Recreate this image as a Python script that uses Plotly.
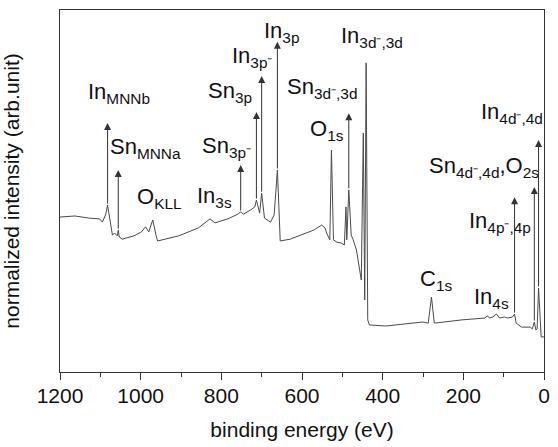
import numpy as np
import plotly.graph_objects as go

# XPS survey spectrum of ITO: binding energy (eV) and normalized intensity
energy = [1200, 1163, 1127, 1102, 1095, 1087, 1082, 1078, 1070, 1065, 1058, 1055.5, 1053,
          1046, 1017, 998, 988, 980, 970, 962, 958, 906, 857, 828, 816, 784, 759, 752,
          745, 727, 717, 713, 705, 700, 693, 678, 669, 661, 654, 629, 588, 571, 551,
          543, 539, 531, 527, 522, 514, 502, 495, 491, 489, 484, 478, 473, 465, 458,
          453, 448, 444.5, 441, 437, 433, 392, 343, 301, 287, 279, 272, 203, 147, 140,
          135, 127, 118, 110, 98, 91, 78, 73, 69, 56, 34, 29, 24, 20, 17, 13.5, 7, 0]
intensity = [42.8, 43.1, 42.5, 42.3, 41.4, 43.4, 46.1, 43.1, 37.8, 38.4, 37.6, 39.2, 37.3,
             36.7, 37.6, 38.7, 40.1, 38.7, 42.0, 37.8, 36.2, 37.6, 39.8, 42.3, 41.2, 42.3,
             43.6, 44.2, 43.6, 44.8, 45.6, 47.5, 43.9, 49.4, 42.5, 41.4, 43.4, 55.8, 36.2,
             36.7, 38.4, 39.2, 40.6, 39.8, 38.4, 36.5, 61.3, 36.5, 35.9, 35.6, 35.1, 45.6,
             36.5, 50.3, 37.8, 36.5, 33.7, 29.0, 25.4, 66.0, 19.9, 85.4, 14.4, 13.0, 12.7,
             13.3, 13.8, 13.5, 20.7, 13.5, 14.4, 14.9, 15.5, 14.9, 15.2, 16.0, 14.9, 15.2,
             14.9, 15.2, 16.0, 13.5, 12.4, 12.4, 11.9, 13.8, 11.6, 11.9, 23.2, 9.7, 9.7]

# peak assignments marked with arrows: peak energy and arrow tip height
arrow_energy = [1082, 1055.5, 752, 713, 700, 661, 484, 73, 24, 13.5]
arrow_tip = [68.8, 55.8, 57.2, 71.8, 81.8, 91.2, 71.5, 48.3, 51.1, 64.1]

# peak labels: text, left edge energy, bottom height
label_text = ["In<sub>MNNb</sub>", "Sn<sub>MNNa</sub>", "O<sub>KLL</sub>", "In<sub>3s</sub>",
              "Sn<sub>3p⁻</sub>", "Sn<sub>3p</sub>", "In<sub>3p⁻</sub>", "In<sub>3p</sub>",
              "In<sub>3d⁻,3d</sub>", "Sn<sub>3d⁻,3d</sub>", "O<sub>1s</sub>",
              "In<sub>4d⁻,4d</sub>", "Sn<sub>4d⁻,4d</sub>,O<sub>2s</sub>",
              "In<sub>4p⁻,4p</sub>", "In<sub>4s</sub>", "C<sub>1s</sub>"]
label_x = [1134, 1078, 1011, 864, 850, 835, 776, 696, 507, 639, 583, 159, 287, 189, 176, 311]
label_y = [72.9, 57.7, 43.9, 44.2, 58.0, 73.2, 82.9, 89.8, 88.4, 74.3, 62.7, 67.4, 52.5,
           37.3, 16.3, 21.3]

FONT = "Arial, Liberation Sans, sans-serif"

fig = go.Figure()
fig.add_trace(go.Scatter(x=energy, y=intensity, mode="lines",
                         line=dict(color="#4a4a4a", width=1), showlegend=False,
                         hoverinfo="skip"))

annotations = []
for e, tip in zip(arrow_energy, arrow_tip):
    base = float(np.interp(e, energy[::-1], intensity[::-1]))
    annotations.append(dict(x=e, y=tip, ax=e, ay=base, xref="x", yref="y",
                            axref="x", ayref="y", text="", showarrow=True,
                            arrowhead=2, arrowsize=1.4, arrowwidth=1,
                            arrowcolor="#333", standoff=0, startstandoff=0))
for t, lx, ly in zip(label_text, label_x, label_y):
    annotations.append(dict(x=lx, y=ly, xref="x", yref="y", text=t, showarrow=False,
                            xanchor="left", yanchor="bottom",
                            font=dict(family=FONT, size=22, color="#111"),
                            borderpad=0))

fig.update_layout(
    width=558, height=447,
    margin=dict(l=60, r=8, t=10, b=75),
    paper_bgcolor="white", plot_bgcolor="white",
    font=dict(family=FONT, size=21, color="#111"),
    annotations=annotations,
    xaxis=dict(range=[1200, 0], dtick=200, tick0=0, ticks="outside", ticklen=7,
               tickwidth=1, tickcolor="#333", showgrid=False, zeroline=False,
               showline=True, linecolor="#333", linewidth=1, mirror=True,
               minor=dict(dtick=100, ticks="outside", ticklen=4, tickcolor="#333"),
               ticklabelstandoff=-2,
               title=dict(text="binding energy (eV)", font=dict(size=21), standoff=16),
               tickfont=dict(size=21)),
    yaxis=dict(range=[0, 100], showticklabels=False, ticks="", showgrid=False,
               zeroline=False, showline=True, linecolor="#333", linewidth=1,
               mirror=True,
               title=dict(text="normalized intensity (arb.unit)", font=dict(size=21),
                          standoff=34)),
)

fig.write_html("out.html")
